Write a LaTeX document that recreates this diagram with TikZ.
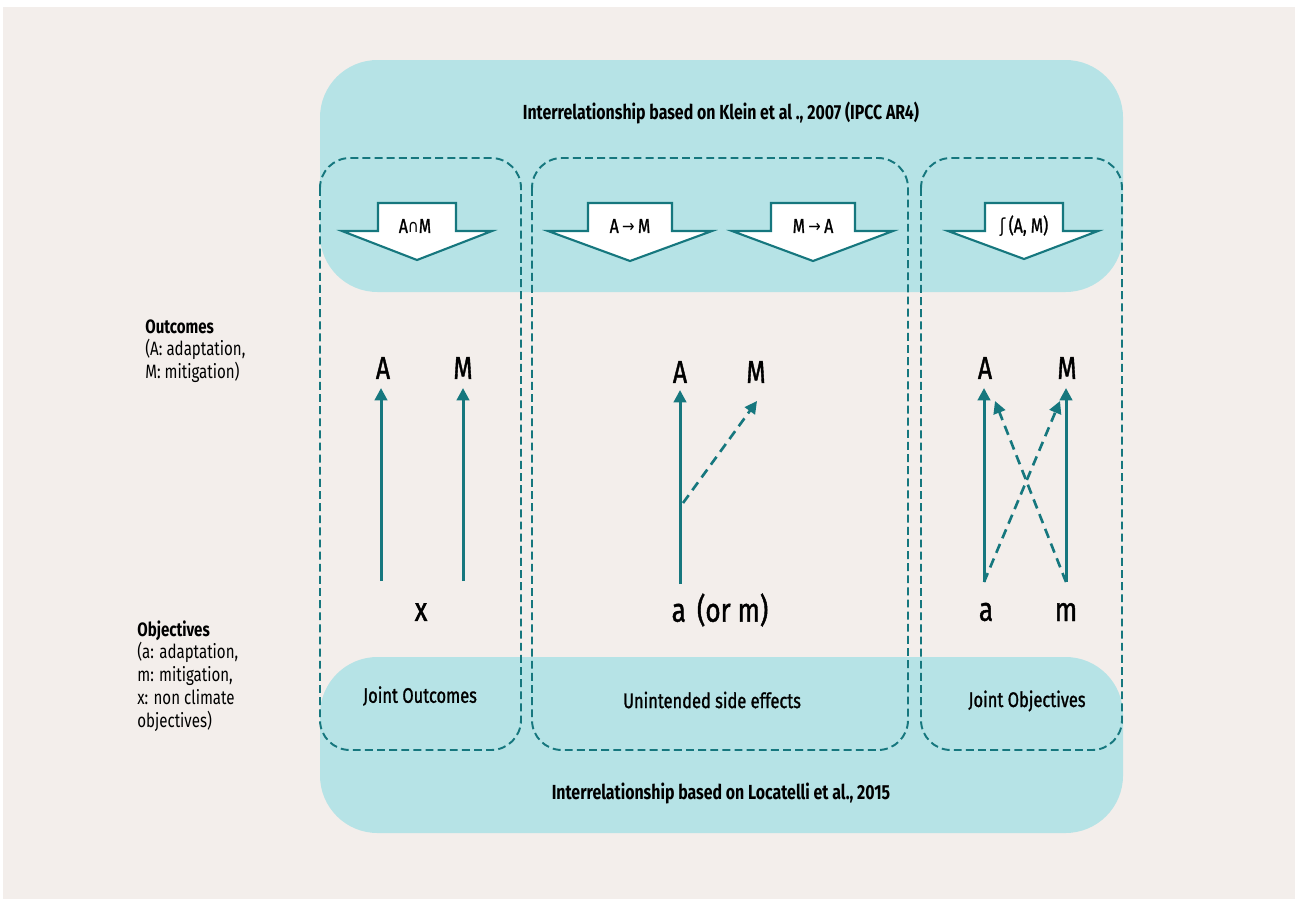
\documentclass[tikz,border=0pt]{standalone}
\usepackage{fontspec}
\setmainfont{Fira Sans}[FakeStretch=0.78]
\newfontfamily\boldish{Fira Sans}[FakeStretch=0.78, FakeBold=1.2]
\newfontfamily\symfont{DejaVu Sans}[FakeStretch=0.85]
\usetikzlibrary{arrows.meta}
\definecolor{bgc}{HTML}{F3EEEB}
\definecolor{bandc}{HTML}{B6E3E6}
\definecolor{tealc}{HTML}{16777E}
\begin{document}
\begin{tikzpicture}[x=0.02cm,y=-0.02cm,
  band/.style={fill=bandc, rounded corners=1.15cm},
  dbox/.style={draw=tealc, line width=1.1pt, dash pattern=on 4.5pt off 2.4pt, rounded corners=0.6cm},
  barr/.style={draw=tealc, fill=white, line width=1.2pt, line join=miter},
  title/.style={font=\fontsize{11.6}{13}\selectfont\bfseries, inner sep=0pt},
  lab/.style={font=\boldish\fontsize{11.5}{13}\selectfont, inner sep=0pt},
  big/.style={font=\boldish\fontsize{18}{21}\selectfont, inner sep=0pt},
  mid/.style={font=\boldish\fontsize{19}{22}\selectfont, inner sep=0pt},
  bandlab/.style={font=\boldish\fontsize{12}{14}\selectfont, inner sep=0pt},
  side/.style={font=\fontsize{11}{13}\selectfont, align=left, anchor=north west, inner sep=0pt},
  solid arr/.style={draw=tealc, line width=1.7pt, -{Triangle[length=7pt,width=7pt]}},
  dash arr/.style={draw=tealc, line width=1.5pt, dash pattern=on 5.5pt off 3.5pt, -{Triangle[length=7pt,width=7pt]}}
]
\useasboundingbox (0,0) rectangle (1300,899);
\fill[white] (0,0) rectangle (1300,899);
\fill[bgc] (3,7) rectangle (1295,899);
% bands
\fill[band] (320,60) rectangle (1123,292);
\fill[band] (320,657) rectangle (1123,833);
% dashed boxes
\draw[dbox] (320,158) rectangle (521,750);
\draw[dbox] (532,158) rectangle (908,750);
\draw[dbox] (921,158) rectangle (1122,750);
% block arrows
\draw[barr] (378,203) -- (456,203) -- (456,231) -- (492,231) -- (417,260) -- (342,231) -- (378,231) -- cycle;
\draw[barr] (588,203) -- (672,203) -- (672,231) -- (712,231) -- (630,261) -- (548,231) -- (588,231) -- cycle;
\draw[barr] (771,203) -- (855,203) -- (855,231) -- (893,231) -- (813,261) -- (732,231) -- (771,231) -- cycle;
\draw[barr] (985,203) -- (1063,203) -- (1063,231) -- (1098,231) -- (1024,259) -- (948,231) -- (985,231) -- cycle;
\node[lab] (l1) at (415,226) {A{\symfont\fontsize{10}{12}\selectfont ∩}M};
\node[lab] (l2) at (630,226) {A\,{\symfont\fontsize{10}{12}\selectfont →}\,M};
\node[lab] (l3) at (813,226) {M\,{\symfont\fontsize{10}{12}\selectfont →}\,A};
\node[lab] (l4) at (1024,226) {{\symfont\fontsize{11}{12}\selectfont ʃ}\,(A, M)};
% titles
\node[title] (t1) at (721,113) {Interrelationship based on Klein et al ., 2007 (IPCC AR4)};
\node[title] (t2) at (721,793) {Interrelationship based on Locatelli et al., 2015};
\node[bandlab] (j1) at (420,696) {Joint Outcomes};
\node[bandlab] (j2) at (712,700) {Unintended side effects};
\node[bandlab] (j3) at (1027,701) {Joint Objectives};
% side text
\node[side] (out) at (145,319) {\textbf{Outcomes}\\(A: adaptation,\\M: mitigation)};
\node[side] (obj) at (137,620) {\textbf{Objectives}\\(a: adaptation,\\m: mitigation,\\x: non climate\\objectives)};
% letters
\node[big] (A1) at (383,368) {A};
\node[big] (M1) at (463,368) {M};
\node[big] (A2) at (680,372) {A};
\node[big] (M2) at (756,372) {M};
\node[big] (A3) at (985,368) {A};
\node[big] (M3) at (1067,368) {M};
\node[mid] (x1) at (421,612) {x};
\node[mid] (am) at (720,610) {a\,\,(or m)};
\node[mid] (a3) at (986,612) {a};
\node[mid] (m3) at (1066,612) {m};
% arrow coordinates
\coordinate (s1) at (381,581); \coordinate (e1) at (381,388);
\coordinate (s2) at (463,581); \coordinate (e2) at (463,388);
\coordinate (s3) at (680,584); \coordinate (e3) at (680,390);
\coordinate (d3) at (683,503); \coordinate (f3) at (757,401);
\coordinate (s4) at (984,582); \coordinate (e4) at (984,388);
\coordinate (s5) at (1066,582); \coordinate (e5) at (1066,388);
\coordinate (f4) at (995,401); \coordinate (f5) at (1060,401);
\draw[solid arr] (s1) -- (e1);
\draw[solid arr] (s2) -- (e2);
\draw[solid arr] (s3) -- (e3);
\draw[dash arr] (d3) -- (f3);
\draw[solid arr] (s4) -- (e4);
\draw[solid arr] (s5) -- (e5);
\draw[dash arr] (s4) -- (f5);
\draw[dash arr] (s5) -- (f4);
\end{tikzpicture}
\end{document}
